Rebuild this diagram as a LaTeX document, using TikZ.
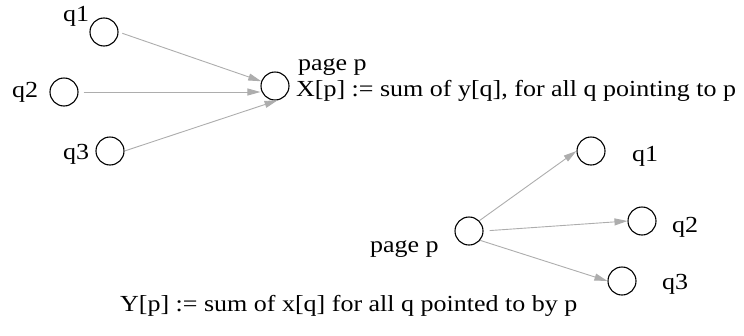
\documentclass[tikz,border=0pt]{standalone}
\usepackage{fontspec}
\setmainfont{Liberation Serif}
\newfontfamily\widefont[FakeStretch=1.13]{Liberation Serif}
\usetikzlibrary{arrows.meta}

\begin{document}
\begin{tikzpicture}[x=1pt, y=-1pt,
	pg/.style={circle, draw, line width=1.1pt, minimum size=28pt, inner sep=0},
	lbl/.style={anchor=base west, inner sep=0, font=\widefont\fontsize{23}{28}\selectfont},
	lnk/.style={draw=black!32, line width=0.9pt, -{Triangle[length=13pt, width=7pt]}}]
				\useasboundingbox (0,0) rectangle (744,335);
				%pages q pointing to p
				\node[pg] (qa1) at (104,32) {};
				\node[pg] (qa2) at (64,92) {};
				\node[pg] (qa3) at (110,151) {};
				\node[pg] (pa) at (275,86) {};
				\node[lbl] (qa1lbl) at (63,21) {q1};
				\node[lbl] (qa2lbl) at (12,97) {q2};
				\node[lbl] (qa3lbl) at (63,159) {q3};
				\node[lbl] (palbl) at (298,70) {page p};
				\node[lbl] (xdef) at (296,96) {X[p] := sum of y[q], for all q pointing to p};
				\draw[lnk, shorten <=4pt] (qa1.east) -- (pa);
				\draw[lnk, shorten <=5pt] (qa2.east) -- (qa2.east -| pa.west);
				\draw[lnk] (qa3.east) -- (pa.-80);
				%pages q pointed to by p
				\node[pg] (pb) at (469,231) {};
				\node[pg] (qb1) at (591,151) {};
				\node[pg] (qb2) at (642,221) {};
				\node[pg] (qb3) at (622,281) {};
				\node[lbl] (pblbl) at (370,252) {page p};
				\node[lbl] (qb1lbl) at (632,161) {q1};
				\node[lbl] (qb2lbl) at (672,232) {q2};
				\node[lbl] (qb3lbl) at (662,289) {q3};
				\node[lbl] (ydef) at (120,311) {Y[p] := sum of x[q] for all q pointed to by p};
				\draw[lnk] (pb.45) -- (qb1.west);
				\draw[lnk, shorten <=6pt] (pb.east) -- (qb2.west);
				\draw[lnk] (pb.-40) -- (qb3.west);
			\end{tikzpicture}
\end{document}
